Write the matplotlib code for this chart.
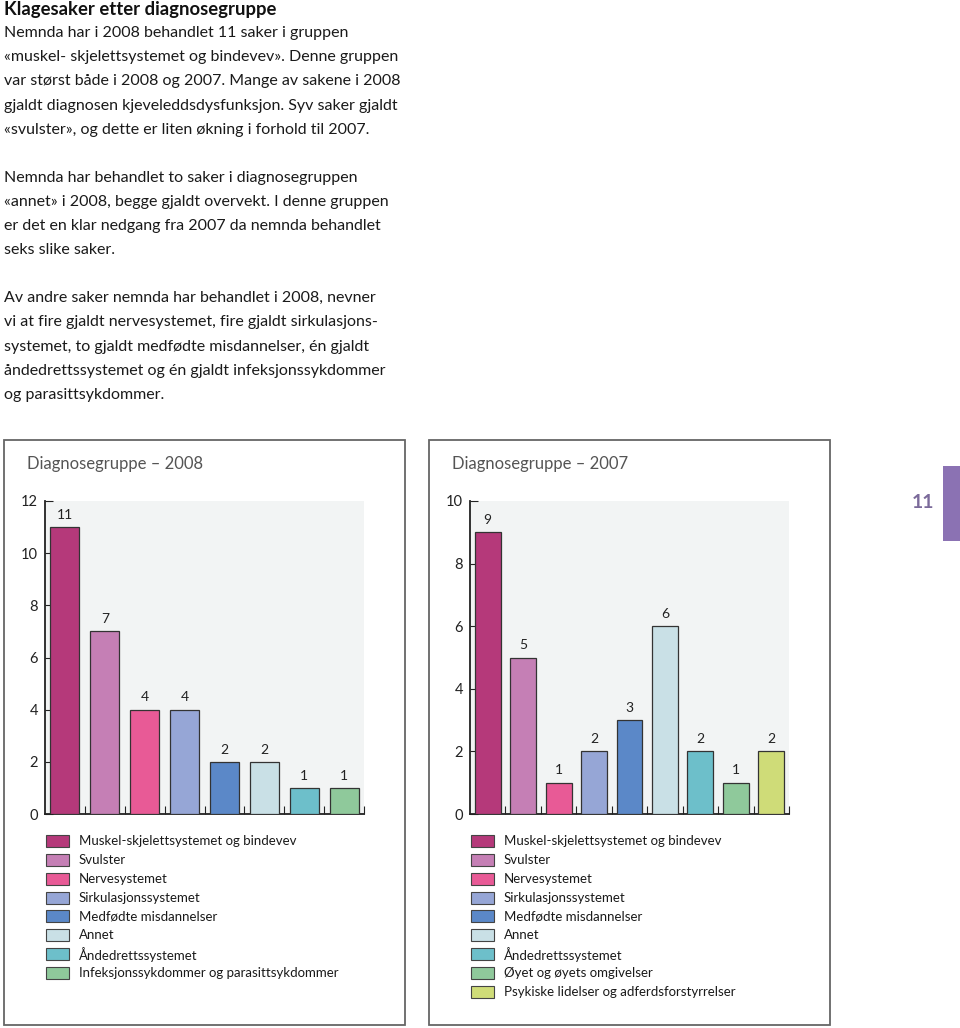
import matplotlib
matplotlib.use("Agg")
import matplotlib.pyplot as plt
from matplotlib.patches import Rectangle

plt.rcParams['font.family'] = ['Lato', 'DejaVu Sans']

# data
title = "Klagesaker etter diagnosegruppe"
paragraphs = [
    ["Nemnda har i 2008 behandlet 11 saker i gruppen",
     "«muskel- skjelettsystemet og bindevev». Denne gruppen",
     "var størst både i 2008 og 2007. Mange av sakene i 2008",
     "gjaldt diagnosen kjeveleddsdysfunksjon. Syv saker gjaldt",
     "«svulster», og dette er liten økning i forhold til 2007."],
    ["Nemnda har behandlet to saker i diagnosegruppen",
     "«annet» i 2008, begge gjaldt overvekt. I denne gruppen",
     "er det en klar nedgang fra 2007 da nemnda behandlet",
     "seks slike saker."],
    ["Av andre saker nemnda har behandlet i 2008, nevner",
     "vi at fire gjaldt nervesystemet, fire gjaldt sirkulasjons-",
     "systemet, to gjaldt medfødte misdannelser, én gjaldt",
     "åndedrettssystemet og én gjaldt infeksjonssykdommer",
     "og parasittsykdommer."],
]

cat_2008 = ["Muskel-skjelettsystemet og bindevev", "Svulster", "Nervesystemet",
            "Sirkulasjonssystemet", "Medfødte misdannelser", "Annet",
            "Åndedrettssystemet", "Infeksjonssykdommer og parasittsykdommer"]
val_2008 = [11, 7, 4, 4, 2, 2, 1, 1]
col_2008 = ["#b5397a", "#c57fb5", "#e85a96", "#96a6d6", "#5b88c8", "#c9e0e6",
            "#6dbfca", "#8fc99b"]

cat_2007 = ["Muskel-skjelettsystemet og bindevev", "Svulster", "Nervesystemet",
            "Sirkulasjonssystemet", "Medfødte misdannelser", "Annet",
            "Åndedrettssystemet", "Øyet og øyets omgivelser",
            "Psykiske lidelser og adferdsforstyrrelser"]
val_2007 = [9, 5, 1, 2, 3, 6, 2, 1, 2]
col_2007 = ["#b5397a", "#c57fb5", "#e85a96", "#96a6d6", "#5b88c8", "#c9e0e6",
            "#6dbfca", "#8fc99b", "#cfdc78"]

W, H = 960, 1028
fig = plt.figure(figsize=(W / 100, H / 100), dpi=100)


def fx(x):
    return x / W


def fy(y):
    return 1 - y / H


# text block
fig.text(fx(4), fy(10), title, fontsize=13.3, fontweight='bold', va='center', color='#111')
line_y = [[33, 57, 81, 106, 130], [178, 202, 226, 250], [298, 322, 347, 371, 395]]
for para, ys in zip(paragraphs, line_y):
    for line, y in zip(para, ys):
        fig.text(fx(4), fy(y), line, fontsize=11.5, va='center', color='#1a1a1a')


def panel(box_x, ax_left, ax_right, heading, cats, vals, cols, ymax, ystep):
    fig.patches.append(Rectangle((fx(box_x), fy(1025)), fx(401), 585 / H,
                                 transform=fig.transFigure, fill=False,
                                 edgecolor='#666', lw=1.3))
    fig.text(fx(box_x + 23), fy(464), heading, fontsize=12, color='#555', va='center')
    ax = fig.add_axes([fx(ax_left), fy(814), fx(ax_right - ax_left), 313 / H])
    ax.set_facecolor('#f2f4f4')
    n = len(vals)
    xs = list(range(n))
    ax.bar(xs, vals, width=0.73, color=cols, edgecolor='#333', lw=0.9, zorder=3)
    for x, v in zip(xs, vals):
        ax.text(x, v + ymax * 0.02, str(v), ha='center', va='bottom', fontsize=10, color='#222')
    ax.set_xlim(-0.5, n - 0.5)
    ax.set_ylim(0, ymax)
    ax.set_yticks(range(0, ymax + 1, ystep))
    ax.set_xticks([i + 0.5 for i in range(n)])
    ax.set_xticklabels([])
    ax.tick_params(axis='y', direction='in', length=6, labelsize=10.5, pad=5, colors='#222')
    ax.tick_params(axis='x', direction='in', length=6, colors='#222')
    for s in ['top', 'right']:
        ax.spines[s].set_visible(False)
    for s in ['left', 'bottom']:
        ax.spines[s].set_color('#222')
        ax.spines[s].set_linewidth(1.3)
    # legend
    for i, (c, col) in enumerate(zip(cats, cols)):
        yc = 841 + i * 18.85
        fig.patches.append(Rectangle((fx(ax_left + 1), fy(yc + 6)), fx(23), 12 / H,
                                     transform=fig.transFigure, facecolor=col,
                                     edgecolor='#444', lw=0.8))
        fig.text(fx(ax_left + 34), fy(yc), c, fontsize=9.5, va='center', color='#1a1a1a')
    return ax


panel(4, 45, 364, "Diagnosegruppe – 2008", cat_2008, val_2008, col_2008, 12, 2)
panel(429, 470, 789, "Diagnosegruppe – 2007", cat_2007, val_2007, col_2007, 10, 2)

# page tab
fig.patches.append(Rectangle((fx(943), fy(541)), fx(17), 75 / H,
                             transform=fig.transFigure, facecolor='#8b72b3', edgecolor='none'))
fig.text(fx(934), fy(503), "11", fontsize=14, fontweight='bold', color='#7b6a9a',
         ha='right', va='center')

fig.savefig("out.png", dpi=100)
